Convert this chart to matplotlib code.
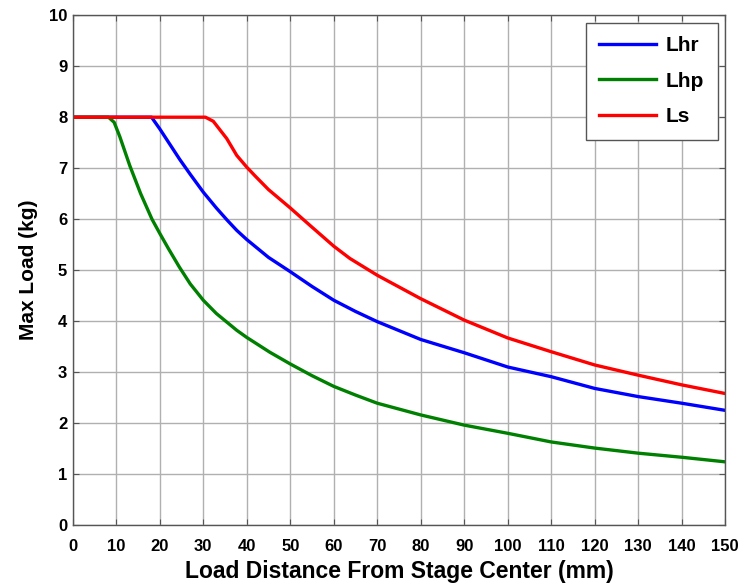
import matplotlib
matplotlib.use("Agg")
import matplotlib.pyplot as plt

plt.rcParams['font.family'] = ['Liberation Sans', 'DejaVu Sans']

# Lhr (blue)
lhr_x = [0, 18.1, 20, 22.3, 24.6, 27, 30, 33, 35.5, 37.7, 40, 45, 50, 55, 60, 65, 70,
         80, 90, 100, 110, 120, 130, 140, 150]
lhr_y = [8, 8, 7.77, 7.47, 7.17, 6.88, 6.53, 6.22, 5.98, 5.78, 5.6, 5.25, 4.97, 4.68, 4.41, 4.19, 3.99,
         3.64, 3.38, 3.10, 2.91, 2.68, 2.52, 2.39, 2.25]

# Lhp (green)
lhp_x = [0, 8.2, 9.5, 10.8, 13.1, 15.6, 18.2, 20, 22, 24.5, 27, 30, 33, 37.7, 40, 45.3, 50, 55,
         60, 65, 70, 80, 90, 100, 110, 120, 130, 140, 150]
lhp_y = [8, 8, 7.9, 7.62, 7.05, 6.5, 6.0, 5.72, 5.42, 5.06, 4.73, 4.41, 4.15, 3.82, 3.68, 3.39, 3.16, 2.93,
         2.72, 2.55, 2.39, 2.16, 1.96, 1.80, 1.63, 1.51, 1.41, 1.33, 1.24]

# Ls (red)
ls_x = [0, 30.5, 32.3, 35.4, 37.7, 40, 42, 45, 50, 54.5, 60, 63.7, 70, 80, 90, 100, 110, 120, 130, 140, 150]
ls_y = [8, 8, 7.92, 7.58, 7.25, 7.02, 6.84, 6.58, 6.22, 5.88, 5.47, 5.23, 4.9, 4.44, 4.02, 3.67, 3.40, 3.14, 2.94, 2.75, 2.58]

x_ticks = list(range(0, 151, 10))
y_ticks = list(range(0, 11))

fig = plt.figure(figsize=(7.43, 5.86), dpi=100)
ax = fig.add_axes([0.098, 0.104, 0.878, 0.870])

ax.plot(lhr_x, lhr_y, color='#0000ff', lw=2.4, label='Lhr')
ax.plot(lhp_x, lhp_y, color='#008000', lw=2.4, label='Lhp')
ax.plot(ls_x, ls_y, color='#ff0000', lw=2.4, label='Ls')

ax.set_xlim(0, 150)
ax.set_ylim(0, 10)
ax.set_xticks(x_ticks)
ax.set_yticks(y_ticks)
ax.grid(True, color='#b0b0b0', lw=1.0, ls='-')
ax.set_axisbelow(True)
ax.tick_params(direction='in', top=True, right=True, length=4, labelsize=12, width=0.8,
               color='#555555')
ax.tick_params(axis='x', pad=10)
ax.tick_params(axis='y', pad=4)
for lbl in ax.get_xticklabels() + ax.get_yticklabels():
    lbl.set_fontweight('bold')
for s in ax.spines.values():
    s.set_color('#555555')
    s.set_linewidth(1.0)

ax.set_xlabel('Load Distance From Stage Center (mm)', fontsize=16.5, fontweight='bold', labelpad=4)
ax.set_ylabel('Max Load (kg)', fontsize=15, fontweight='bold', labelpad=8)

leg = ax.legend(loc='upper right', prop={'weight': 'bold', 'size': 15}, fancybox=False,
                edgecolor='#555555', framealpha=1, handlelength=2.7, handletextpad=0.5,
                labelspacing=0.8, borderpad=0.65, borderaxespad=0.35)
leg.get_frame().set_linewidth(1.0)

fig.savefig('out.png', dpi=100)
